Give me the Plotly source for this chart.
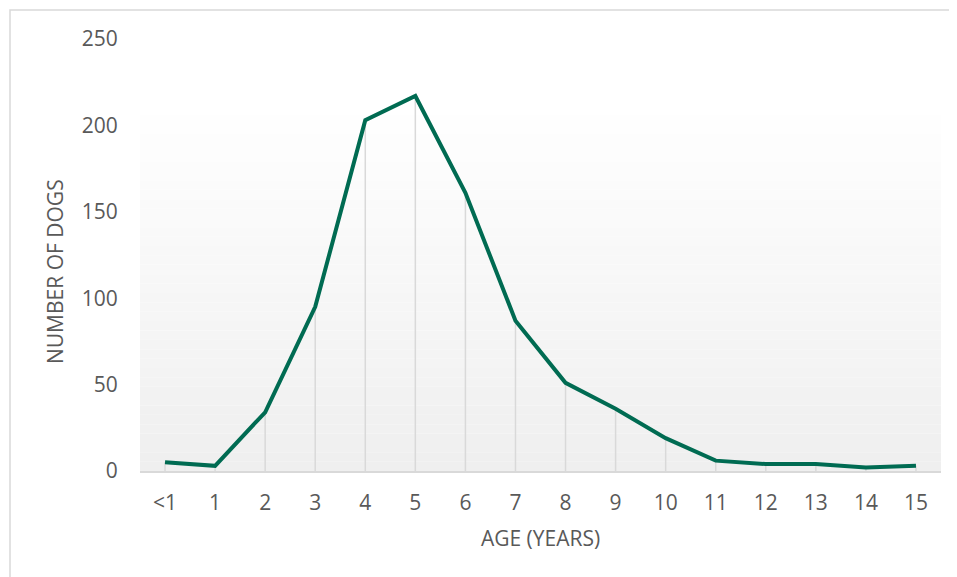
import plotly.graph_objects as go

ages = ["<1", "1", "2", "3", "4", "5", "6", "7", "8", "9", "10", "11", "12", "13", "14", "15"]
dogs = [5, 3, 34, 95, 203, 217, 161, 87, 51, 36, 19, 6, 4, 4, 2, 3]
y_ticks = [0, 50, 100, 150, 200, 250]

# page body has an 8px margin; compensate so the plot lands where the reference has it
off = 8
W, H = 957, 577
ml, mt = 140 - off, 39 - off
mr = W - (941 - off)
mb = H - (471 - off)
pw, ph = W - ml - mr, H - mt - mb

def px_x(p):
    return (p - off - ml) / pw

def px_y(p):
    return (H - mb - (p - off)) / ph

fig = go.Figure()

# stepped gradient background up to the maximum value
n = 40
top = max(dogs)
shapes = []
for i in range(n):
    f = i / (n - 1)
    g = int(round(0xff - (0xff - 0xef) * (1 - f)))
    shapes.append(dict(type="rect", xref="x", yref="y", x0=-0.5, x1=len(ages) - 0.5,
                       y0=top * i / n, y1=top * (i + 1) / n,
                       fillcolor=f"rgb({g},{g},{g})", line=dict(width=0), layer="below"))

# outer chart border
shapes.append(dict(type="rect", xref="paper", yref="paper",
                   x0=px_x(10), x1=2, y0=-2, y1=px_y(10),
                   line=dict(color="#d9d9d9", width=1.5), fillcolor="rgba(0,0,0,0)"))

# drop lines
dx, dy = [], []
for i, v in enumerate(dogs):
    dx += [i, i, None]
    dy += [0, v, None]
fig.add_trace(go.Scatter(x=dx, y=dy, mode="lines", line=dict(color="#d9d9d9", width=1.5),
                         hoverinfo="skip", showlegend=False))

fig.add_trace(go.Scatter(x=list(range(len(ages))), y=dogs, mode="lines",
                         line=dict(color="#006b52", width=4), showlegend=False))

font_fam = "Open Sans, Liberation Sans, sans-serif"
fig.update_layout(
    width=W, height=H,
    margin=dict(l=ml, r=mr, t=mt, b=mb),
    paper_bgcolor="white", plot_bgcolor="white",
    shapes=shapes,
    font=dict(family=font_fam, color="#595959"),
    xaxis=dict(
        tickmode="array", tickvals=list(range(len(ages))), ticktext=ages,
        range=[-0.5, len(ages) - 0.5], showgrid=False, zeroline=False,
        showline=True, linecolor="#d9d9d9", linewidth=1.5,
        ticks="outside", tickcolor="rgba(0,0,0,0)", ticklen=12,
        tickfont=dict(size=21, color="#595959"),
        title=dict(text="AGE (YEARS)", font=dict(size=21, color="#595959"), standoff=16),
    ),
    yaxis=dict(
        tickmode="array", tickvals=y_ticks, range=[0, 250],
        showgrid=False, zeroline=False, showline=False,
        ticks="outside", tickcolor="rgba(0,0,0,0)", ticklen=17,
        tickfont=dict(size=21, color="#595959"),
    ),
    annotations=[dict(text="NUMBER OF DOGS", xref="paper", yref="paper",
                      x=px_x(55), y=px_y(272), xanchor="center", yanchor="middle",
                      textangle=-90, showarrow=False,
                      font=dict(size=21, color="#595959"))],
)

fig.write_html("out.html")
